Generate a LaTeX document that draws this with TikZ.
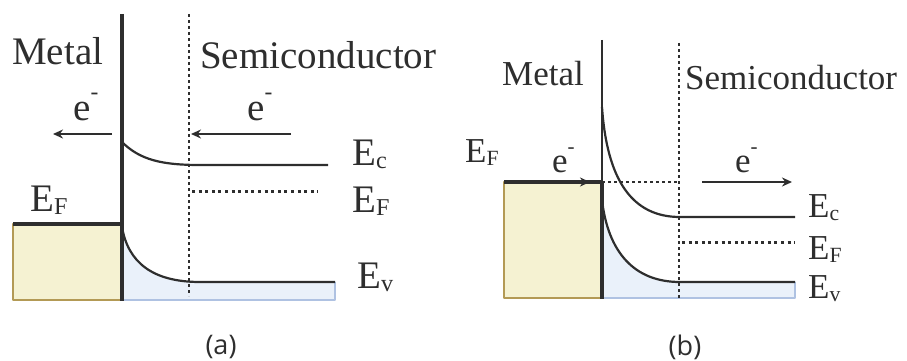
\documentclass[tikz,border=0pt]{standalone}
\usepackage{fontspec}
\setmainfont{Liberation Serif}
\newfontfamily\capfont{Open Sans}
\usetikzlibrary{arrows.meta}

\definecolor{metalfill}{HTML}{F5F2D2}
\definecolor{metaledge}{HTML}{B39A55}
\definecolor{semifill}{HTML}{EAF1FA}
\definecolor{semiedge}{HTML}{AFC2E2}
\definecolor{ink}{HTML}{2E2E2E}

\newcommand{\lowsub}[1]{\raisebox{-0.09em}{\scalebox{0.62}{#1}}}
\newcommand{\elec}{e\raisebox{0.52em}{\scalebox{0.6}{-}}}

\begin{document}
\begin{tikzpicture}[x=1pt,y=-1pt,line cap=butt,line join=round,
    wall/.style={ink,line width=3.2pt},
    band/.style={ink,line width=2.2pt},
    sepline/.style={ink,line width=1.7pt,dash pattern=on 3pt off 3pt},
    fermi/.style={ink,line width=3pt,dash pattern=on 3pt off 3.6pt},
    flow/.style={ink,line width=2.2pt,-{Stealth[length=10pt,width=9pt]}},
    lbl/.style={anchor=base west,inner sep=0pt,text=ink},
    tag/.style={inner sep=0pt,text=ink,font=\capfont\fontsize{27}{30}\selectfont}]
  \useasboundingbox (0,0) rectangle (907,361);

  % ---- (a) ----
  \begin{scope}[font=\fontsize{39}{46}\selectfont]
  \fill[metalfill,draw=metaledge,line width=1.6pt] (13,224) rectangle (122,300);
  \fill[semifill] (122,227) .. controls (128,262) and (152,282) .. (200,282) -- (335,282) -- (335,300) -- (122,300) -- cycle;
  \draw[semiedge,line width=1.6pt] (122,300) -- (335,300) -- (335,282);
  \draw[wall] (13,224) -- (122,224);
  \draw[band] (122,227) .. controls (128,262) and (152,282) .. (200,282) -- (335,282);
  \draw[band] (122,142) .. controls (140,160) and (162,165) .. (200,165) -- (328,165);
  \draw[fermi] (192,191) -- (318,191);
  \draw[sepline] (189,14) -- (189,296);
  \draw[wall] (122,14) -- (122,301);
  \coordinate (a1) at (112,134);
  \coordinate (a2) at (53,134);
  \coordinate (a3) at (291,134);
  \coordinate (a4) at (191,134);
  \draw[flow] (a1) -- (a2);
  \draw[flow] (a3) -- (a4);
  \node[lbl] (metA) at (12,65) {Metal};
  \node[lbl] (semA) at (200,69) {Semiconductor};
  \node[lbl] (eA1) at (73,120) {\elec};
  \node[lbl] (eA2) at (247,120) {\elec};
  \node[lbl] (ecA) at (352,165) {E\lowsub{c}};
  \node[lbl] (efA) at (352,212) {E\lowsub{F}};
  \node[lbl] (evA) at (357,288) {E\lowsub{v}};
  \node[lbl] (efmA) at (30,211) {E\lowsub{F}};
  \end{scope}
  \node[tag] (capA) at (221,347) {(a)};

  % ---- (b) ----
  \begin{scope}[font=\fontsize{35}{42}\selectfont]
  \fill[metalfill,draw=metaledge,line width=1.6pt] (504,182) rectangle (602,298);
  \fill[semifill] (602,200) .. controls (608,252) and (634,282) .. (680,282) -- (795,282) -- (795,298) -- (602,298) -- cycle;
  \draw[semiedge,line width=1.6pt] (602,298) -- (795,298) -- (795,282);
  \draw[wall] (504,182) -- (602,182);
  \draw[sepline] (602,182) -- (678,182);
  \draw[band] (602,200) .. controls (608,252) and (634,282) .. (680,282) -- (795,282);
  \draw[band] (602,107) .. controls (607,180) and (632,217) .. (680,217) -- (795,217);
  \draw[fermi] (682,242) -- (795,242);
  \draw[sepline] (679,43) -- (679,298);
  \draw[wall,line width=2.4pt] (602,40) -- (602,182);
  \draw[wall] (602,182) -- (602,299);
  \coordinate (b1) at (560,182);
  \coordinate (b2) at (590,182);
  \coordinate (b3) at (702,182);
  \coordinate (b4) at (792,182);
  \draw[flow] (b1) -- (b2);
  \draw[flow] (b3) -- (b4);
  \node[lbl] (metB) at (502,85) {Metal};
  \node[lbl] (semB) at (685,89) {Semiconductor};
  \node[lbl] (efmB) at (465,162) {E\lowsub{F}};
  \node[lbl] (eB1) at (552,172) {\elec};
  \node[lbl] (eB2) at (735,172) {\elec};
  \node[lbl] (ecB) at (808,217) {E\lowsub{c}};
  \node[lbl] (efB) at (808,259) {E\lowsub{F}};
  \node[lbl] (evB) at (808,298) {E\lowsub{v}};
  \end{scope}
  \node[tag] (capB) at (685,347) {(b)};
\end{tikzpicture}
\end{document}
